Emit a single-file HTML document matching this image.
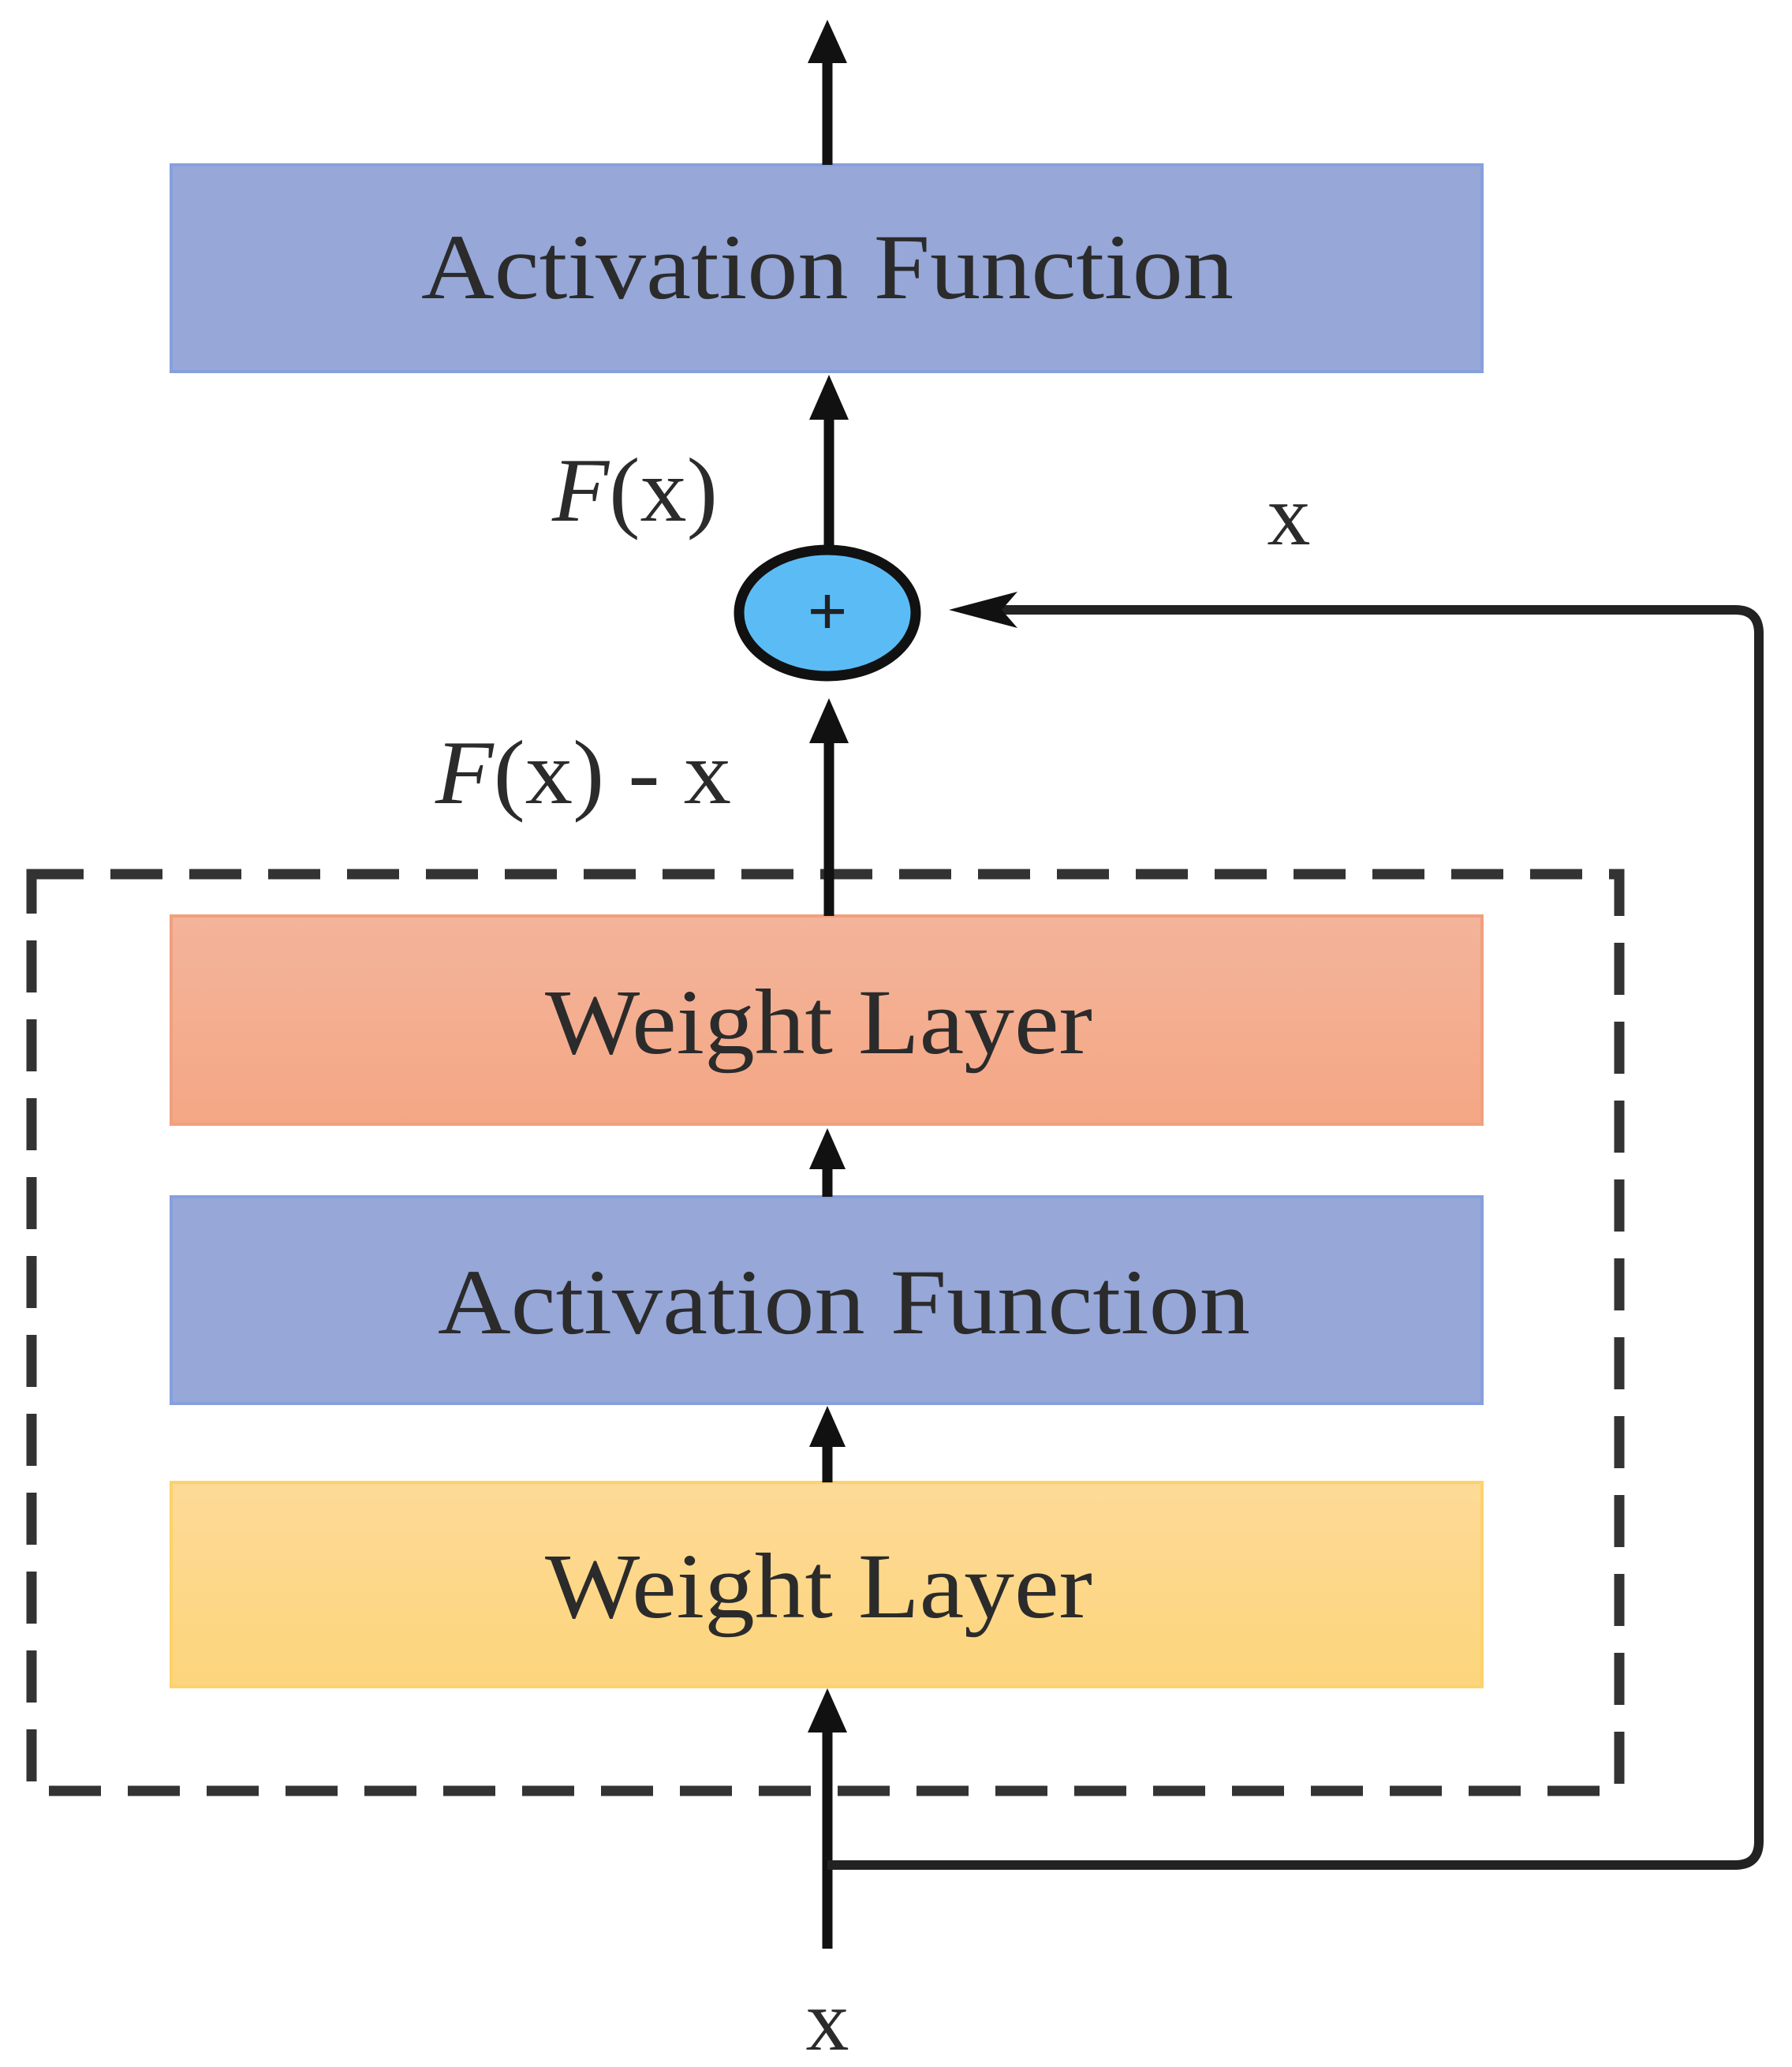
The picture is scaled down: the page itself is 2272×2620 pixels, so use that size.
<!DOCTYPE html>
<html><head><meta charset="utf-8"><style>html,body{margin:0;padding:0;background:#fff}svg{display:block}</style></head>
<body>
<svg width="2272" height="2620" viewBox="0 0 2272 2620" xmlns="http://www.w3.org/2000/svg">
<defs>
<linearGradient id="og" x1="0" y1="0" x2="0" y2="1"><stop offset="0" stop-color="#f3b49b"/><stop offset="1" stop-color="#f4a784"/></linearGradient>
<linearGradient id="yg" x1="0" y1="0" x2="0" y2="1"><stop offset="0" stop-color="#fdda97"/><stop offset="1" stop-color="#fdd57c"/></linearGradient>
</defs>
<g font-family="Liberation Serif, serif" fill="#2b2b2b">
<!-- boxes -->
<rect x="217" y="209" width="1662" height="262" fill="#96a7d8" stroke="#86a0dc" stroke-width="4"/>
<text x="1049" y="378" font-size="118" text-anchor="middle" textLength="1030" lengthAdjust="spacingAndGlyphs">Activation Function</text>
<rect x="217" y="1161" width="1662" height="264" fill="url(#og)" stroke="#f0a07e" stroke-width="4"/>
<text x="1038" y="1335" font-size="118" text-anchor="middle" textLength="694" lengthAdjust="spacingAndGlyphs">Weight Layer</text>
<rect x="217" y="1517" width="1662" height="262" fill="#96a7d8" stroke="#86a0dc" stroke-width="4"/>
<text x="1070" y="1690" font-size="118" text-anchor="middle" textLength="1030" lengthAdjust="spacingAndGlyphs">Activation Function</text>
<rect x="217" y="1879" width="1662" height="259" fill="url(#yg)" stroke="#fdd26a" stroke-width="4"/>
<text x="1038" y="2050" font-size="118" text-anchor="middle" textLength="694" lengthAdjust="spacingAndGlyphs">Weight Layer</text>
<!-- dashed -->
<rect x="40" y="1108" width="2013" height="1162" fill="none" stroke="#333" stroke-width="13" stroke-dasharray="66 34"/>
<!-- connectors -->
<g stroke="#111" stroke-width="13" fill="none">
<line x1="1049" y1="209" x2="1049" y2="70"/>
<line x1="1051" y1="693" x2="1051" y2="520"/>
<line x1="1051" y1="1161" x2="1051" y2="930"/>
<line x1="1049" y1="1517" x2="1049" y2="1470"/>
<line x1="1049" y1="1879" x2="1049" y2="1825"/>
<line x1="1049" y1="2470" x2="1049" y2="2185"/>
<path d="M1049 2364 H2200 Q2230 2364 2230 2334 V803 Q2230 773 2200 773 H1260" stroke="#222" stroke-width="12"/>
</g>
<g fill="#111">
<polygon points="1049,25 1024,80 1074,80"/>
<polygon points="1051,475 1026,532 1076,532"/>
<polygon points="1051,885 1026,942 1076,942"/>
<polygon points="1049,1430 1026,1482 1072,1482"/>
<polygon points="1049,1782 1026,1834 1072,1834"/>
<polygon points="1049,2140 1024,2196 1074,2196"/>
<polygon points="1203,773 1290,750 1270,773 1290,796"/>
</g>
<ellipse cx="1049" cy="777" rx="112" ry="80" fill="#5bbcf5" stroke="#111" stroke-width="13"/>
<text x="1049" y="805" font-size="90" text-anchor="middle" fill="#222" font-weight="bold">+</text>
<!-- labels -->
<text x="700" y="660" font-size="115" textLength="210" lengthAdjust="spacingAndGlyphs"><tspan font-style="italic">F</tspan>(x)</text>
<text x="1634" y="690" font-size="110" text-anchor="middle">x</text>
<text x="552" y="1018" font-size="115" textLength="375" lengthAdjust="spacingAndGlyphs"><tspan font-style="italic">F</tspan>(x) - x</text>
<text x="1049" y="2598" font-size="110" text-anchor="middle">x</text>
</g>
</svg>
</body></html>
